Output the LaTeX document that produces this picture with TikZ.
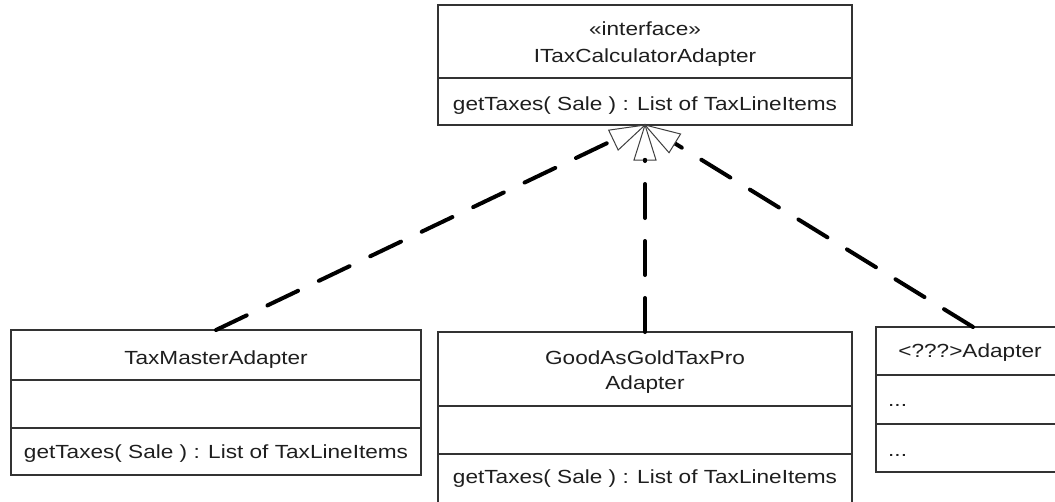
\documentclass[tikz,border=0pt]{standalone}
\usepackage{fontspec}
\setmainfont{Liberation Sans}[FakeStretch=1.19]
\usetikzlibrary{calc}
\definecolor{boxline}{HTML}{333333}
\definecolor{txt}{HTML}{1E1E1E}
\begin{document}
\begin{tikzpicture}[x=1pt,y=-1pt,
  box/.style={draw=boxline, line width=1.3pt, anchor=north west, inner sep=0pt, outer sep=0pt},
  divider/.style={draw=boxline, line width=1.3pt},
  lbl/.style={anchor=base, inner sep=0pt, text=txt, font=\fontsize{19}{25}\selectfont},
  lbll/.style={lbl, anchor=base west},
  realize/.style={line width=4pt, dash pattern=on 34pt off 23pt, line cap=round},
  tri/.style={draw=black!75, line width=1pt, fill=white, line join=miter}]
\useasboundingbox (0,0) rectangle (1055,501);
\clip (0,0) rectangle (1055,501);
% interface box
\node[box, minimum width=414pt, minimum height=120pt] (itop) at (438,5) {};
\draw[divider] (438,78) -- (852,78);
\node[lbl] (istereo) at (645,35) {«interface»};
\node[lbl] (iname) at (645,62) {ITaxCalculatorAdapter};
\node[lbl] (iop) at (645,110) {getTaxes( Sale ) : List of TaxLineItems};
% TaxMaster
\node[box, minimum width=410pt, minimum height=145pt] (tm) at (11,330) {};
\draw[divider] (11,380) -- (421,380);
\draw[divider] (11,428) -- (421,428);
\node[lbl] (tmname) at (216,364) {TaxMasterAdapter};
\node[lbl] (tmop) at (216,458) {getTaxes( Sale ) : List of TaxLineItems};
% GoodAsGold
\node[box, minimum width=414pt, minimum height=180pt] (gg) at (438,332) {};
\draw[divider] (438,406) -- (852,406);
\draw[divider] (438,454) -- (852,454);
\node[lbl] (ggname1) at (645,364) {GoodAsGoldTaxPro};
\node[lbl] (ggname2) at (645,389) {Adapter};
\node[lbl] (ggop) at (645,483) {getTaxes( Sale ) : List of TaxLineItems};
% ??? adapter
\node[box, minimum width=194pt, minimum height=145pt] (ra) at (876,327) {};
\draw[divider] (876,375) -- (1070,375);
\draw[divider] (876,424) -- (1070,424);
\node[lbl] (raname) at (970,357) {<???>Adapter};
\node[lbll] (raattr) at (888,406) {...};
\node[lbll] (raop) at (888,456) {...};
% realizations
\coordinate (tip) at (itop.south);
\coordinate (bL) at ($(tip)!35pt!(tm.north)$);
\coordinate (bM) at ($(tip)!35pt!(gg.north)$);
\coordinate (bR) at ($(tip)!35pt!(ra.north)$);
\draw[realize] (tm.north) -- (bL);
\draw[realize] (gg.north) -- (bM);
\draw[realize] (ra.north) -- (bR);
\draw[tri] (tip) -- ($(bL)!11pt!90:(tip)$) -- ($(bL)!11pt!-90:(tip)$) -- cycle;
\draw[tri] (tip) -- ($(bM)!11pt!90:(tip)$) -- ($(bM)!11pt!-90:(tip)$) -- cycle;
\draw[tri] (tip) -- ($(bR)!11pt!90:(tip)$) -- ($(bR)!11pt!-90:(tip)$) -- cycle;
\fill (bM) circle (2.2pt);
\end{tikzpicture}
\end{document}
